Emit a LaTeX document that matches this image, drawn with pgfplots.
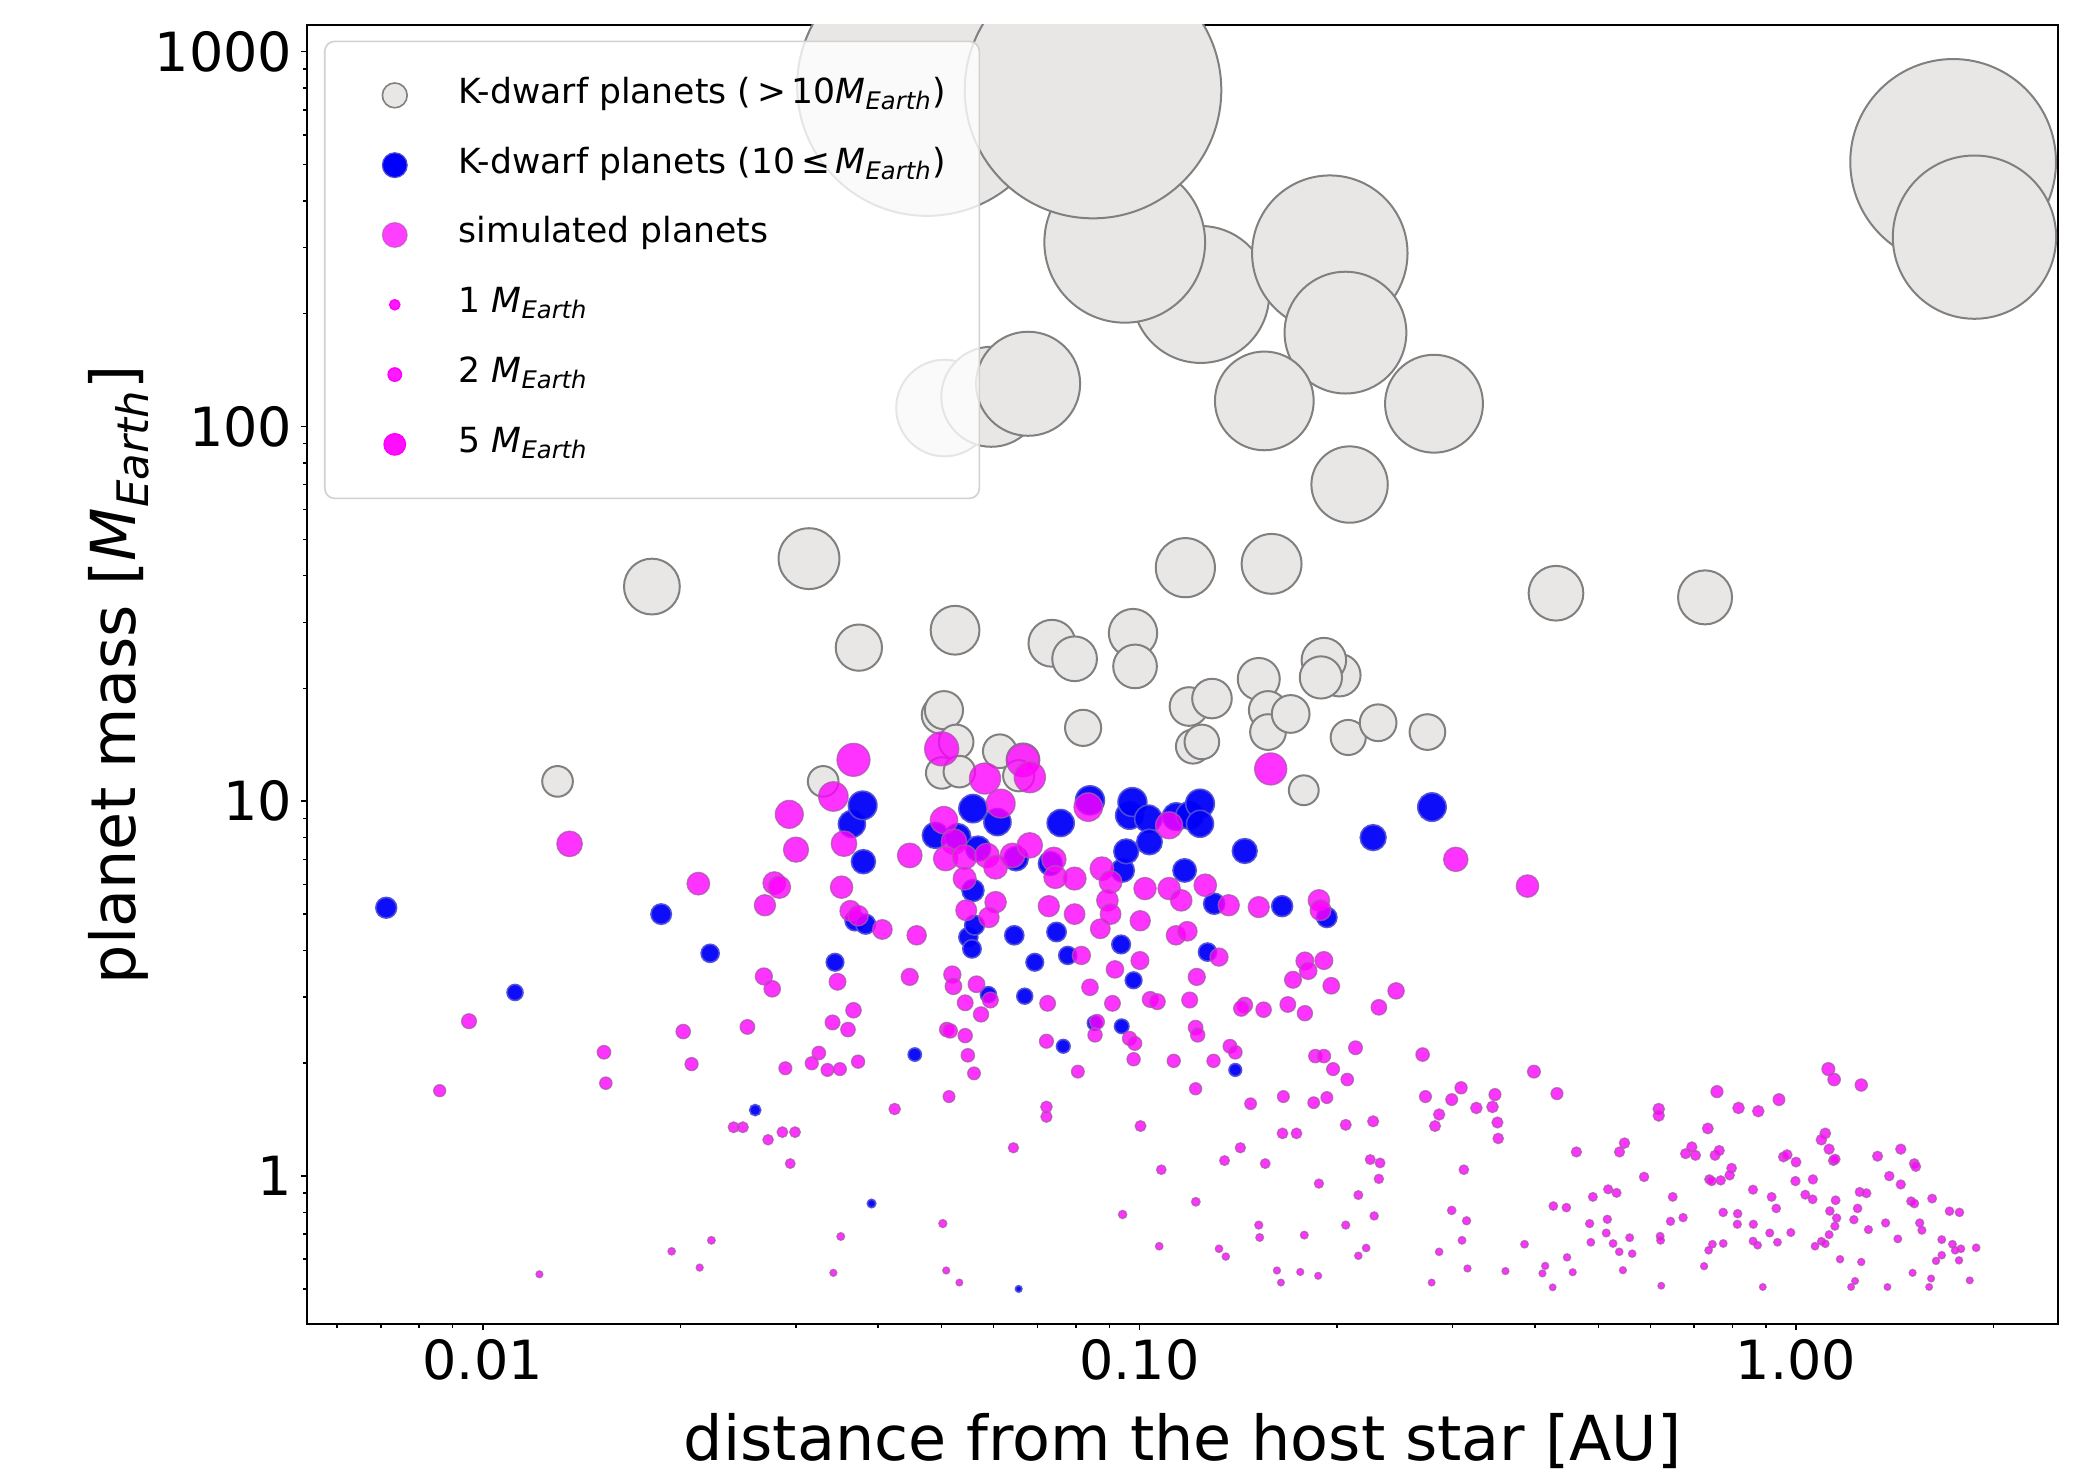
\documentclass[border=0pt]{standalone}
\usepackage{pgfplots}
\pgfplotsset{compat=1.18}
\usepackage{pgfplotstable}
\usepackage{fontspec}
\setmainfont{DejaVu Sans}
\definecolor{kgray}{RGB}{233,230,230}
\definecolor{kedge}{RGB}{128,128,128}
\definecolor{kblue}{RGB}{0,0,250}
\definecolor{kbedge}{RGB}{80,80,215}
\definecolor{smag}{RGB}{255,0,255}
\definecolor{smedge}{RGB}{175,85,175}
\newcommand{\ME}{\textit{M}\textsubscript{\textit{Earth}}}

% K-dwarf planets (> 10 M_Earth): distance [AU], mass [M_Earth]
\pgfplotstableread{
x y
0.0475 810
0.124 225
0.095 310
0.085 790
0.195 290
0.206 178
0.155 117
0.281 115
0.209 70
0.0505 112
0.0595 120
0.0677 130
1.735 508
1.87 320
0.0181 37.4
0.0314 44.4
0.0374 25.7
0.0130 11.3
0.0330 11.3
0.1175 42
0.159 43
0.0524 28.6
0.0736 26.4
0.0797 24
0.0978 28.1
0.0985 22.9
0.0498 17.0
0.0504 17.5
0.0526 14.4
0.050 11.9
0.0532 12.0
0.0613 13.6
0.0665 12.9
0.0655 11.7
0.0821 15.7
0.119 17.9
0.129 18.8
0.1207 14.0
0.1245 14.4
0.152 21.2
0.157 17.5
0.157 15.3
0.170 17.1
0.2016 21.7
0.191 23.8
0.189 21.4
0.178 10.7
0.208 14.8
0.231 16.2
0.2746 15.3
0.431 35.9
0.727 35.0
}\kbig

% K-dwarf planets (<= 10 M_Earth)
\pgfplotstableread{
x y
0.00713 5.2
0.0112 3.09
0.0187 5.0
0.0222 3.93
0.026 1.5
0.0344 3.72
0.0365 8.7
0.0379 9.75
0.038 6.9
0.0369 4.8
0.0383 4.7
0.0391 0.845
0.0455 2.11
0.0489 8.11
0.0529 8.05
0.0549 4.34
0.0556 4.04
0.0561 4.67
0.0558 9.56
0.0558 5.78
0.0568 7.48
0.0589 3.05
0.0608 8.8
0.0645 4.39
0.0649 7.03
0.0655 0.50
0.0669 3.02
0.0693 3.72
0.0732 6.82
0.0748 4.48
0.0759 8.75
0.0766 2.22
0.0778 3.88
0.0841 10.06
0.0855 2.56
0.0938 4.15
0.094 2.51
0.0943 6.54
0.0955 7.35
0.0966 9.17
0.0976 9.95
0.098 3.33
0.1032 8.98
0.1036 7.79
0.1138 9.1
0.1172 6.54
0.1193 9.17
0.1237 9.86
0.1237 8.71
0.127 3.96
0.13 5.33
0.140 1.92
0.1447 7.37
0.165 5.25
0.193 4.9
0.227 8.0
0.279 9.65
}\ksmall

% simulated planets
\pgfplotstableread{
x y
0.0367 12.9
0.0342 10.3
0.0293 9.23
0.030 7.43
0.0355 7.71
0.0447 7.17
0.01356 7.7
0.0213 6.03
0.0278 6.05
0.0283 5.9
0.0269 5.28
0.0352 5.9
0.0363 5.1
0.0373 4.95
0.0406 4.55
0.00953 2.59
0.0086 1.69
0.0153 2.14
0.0154 1.77
0.0202 2.43
0.0208 1.99
0.0253 2.5
0.0268 3.41
0.0276 3.16
0.0347 3.3
0.0367 2.77
0.0341 2.57
0.036 2.46
0.0325 2.13
0.0317 2.0
0.0335 1.92
0.035 1.93
0.0373 2.02
0.0289 1.94
0.0424 1.51
0.0241 1.35
0.0249 1.35
0.0272 1.25
0.0286 1.31
0.0299 1.31
0.0294 1.08
0.0122 0.547
0.0194 0.63
0.0214 0.57
0.0223 0.674
0.0351 0.69
0.0342 0.552
0.0447 3.4
0.0458 4.39
0.0519 3.45
0.0521 3.21
0.0565 3.25
0.0543 2.9
0.0593 2.95
0.0574 2.7
0.0509 2.46
0.0515 2.44
0.0543 2.37
0.0548 2.1
0.056 1.88
0.0513 1.63
0.0502 0.747
0.0508 0.56
0.0532 0.52
0.0725 2.89
0.0722 2.29
0.0722 1.53
0.0722 1.44
0.0643 1.19
0.0806 1.9
0.0816 3.88
0.0841 3.19
0.0862 2.58
0.0856 2.38
0.0872 4.57
0.0918 3.56
0.1002 3.76
0.091 2.89
0.0966 2.33
0.0984 2.26
0.098 2.05
0.1004 1.36
0.0943 0.79
0.108 1.04
0.1072 0.65
0.1039 2.96
0.1065 2.92
0.1128 2.03
0.1137 4.39
0.1183 4.5
0.1223 3.4
0.1193 2.95
0.1218 2.49
0.1227 2.38
0.1322 3.84
0.1297 2.03
0.1218 1.71
0.1219 0.854
0.1374 2.22
0.140 2.14
0.1348 1.10
0.1322 0.64
0.1354 0.61
0.1425 1.19
0.1447 2.86
0.143 2.8
0.1546 2.78
0.1477 1.56
0.1555 1.08
0.152 0.74
0.1525 0.686
0.162 0.56
0.1643 0.52
0.1758 0.555
0.1872 0.542
0.1783 0.696
0.1683 2.87
0.1787 2.72
0.1714 3.34
0.1787 3.75
0.1808 3.53
0.191 3.76
0.196 3.22
0.1657 1.63
0.1843 1.57
0.193 1.62
0.1652 1.30
0.1735 1.30
0.1877 0.955
0.1854 2.09
0.191 2.09
0.1973 1.93
0.2073 1.81
0.2134 2.2
0.2062 1.37
0.227 1.40
0.2247 1.107
0.2326 1.084
0.2316 0.983
0.2155 0.89
0.2062 0.74
0.2278 0.783
0.2215 0.643
0.2155 0.613
0.2316 2.82
0.246 3.12
0.27 2.11
0.2727 1.63
0.2861 1.46
0.282 1.36
0.2861 0.628
0.2787 0.52
0.050 13.8
0.0582 11.5
0.0615 9.86
0.0665 12.85
0.0681 11.6
0.1585 12.2
0.0836 9.65
0.111 8.63
0.0504 8.9
0.0522 7.8
0.0507 7.03
0.0542 7.1
0.0586 7.17
0.0604 6.67
0.0641 7.17
0.0681 7.63
0.0542 6.22
0.0604 5.38
0.0545 5.12
0.059 4.9
0.0741 7.0
0.0745 6.28
0.0797 6.22
0.0728 5.25
0.0797 5.0
0.0877 6.61
0.0904 6.09
0.0894 5.44
0.0904 5.0
0.1003 4.8
0.102 5.85
0.111 5.85
0.1158 5.44
0.126 5.97
0.1368 5.28
0.152 5.22
0.1877 5.44
0.1888 5.12
0.3033 7.0
0.39 5.94
0.399 1.90
0.309 1.72
0.299 1.60
0.348 1.65
0.326 1.52
0.345 1.53
0.351 1.39
0.352 1.26
0.4325 1.66
0.312 1.04
0.299 0.81
0.315 0.76
0.310 0.674
0.316 0.567
0.361 0.558
0.386 0.658
0.415 0.576
0.411 0.55
0.426 0.505
0.448 0.607
0.457 0.554
0.427 0.832
0.447 0.824
0.463 1.16
0.4905 0.88
0.5175 0.922
0.533 0.902
0.548 1.225
0.5385 1.16
0.485 0.747
0.487 0.666
0.516 0.767
0.514 0.705
0.5265 0.661
0.538 0.628
0.558 0.685
0.563 0.621
0.545 0.561
0.587 0.995
0.618 1.51
0.618 1.45
0.649 0.88
0.644 0.7575
0.673 0.775
0.621 0.691
0.622 0.674
0.6235 0.51
0.679 1.148
0.694 1.196
0.703 1.136
0.734 1.34
0.758 1.68
0.753 1.136
0.764 1.17
0.798 1.05
0.7925 1.005
0.738 0.98
0.744 0.97
0.768 0.974
0.8175 1.52
0.876 1.49
0.942 1.60
0.7746 0.80
0.815 0.794
0.814 0.744
0.775 0.661
0.746 0.658
0.736 0.634
0.7245 0.575
0.86 0.92
0.861 0.744
0.86 0.671
0.874 0.654
0.918 0.88
0.933 0.82
0.912 0.705
0.937 0.666
0.89 0.506
0.957 1.125
0.969 1.14
1.00 1.09
0.998 0.97
1.061 0.98
1.033 0.892
1.06 0.867
0.982 0.707
1.069 0.65
1.093 0.67
1.108 0.66
1.12 1.93
1.143 1.81
1.257 1.75
1.108 1.30
1.093 1.25
1.123 1.18
1.14 1.10
1.147 1.11
1.149 0.862
1.126 0.807
1.153 0.773
1.146 0.735
1.123 0.698
1.167 0.60
1.257 0.59
1.23 0.525
1.213 0.506
1.241 0.82
1.225 0.765
1.25 0.907
1.28 0.90
1.289 0.72
1.331 1.13
1.369 0.75
1.378 0.506
1.387 1.0
1.429 0.68
1.444 1.18
1.444 0.95
1.514 1.08
1.522 1.06
1.497 0.857
1.514 0.845
1.543 0.75
1.555 0.717
1.612 0.871
1.505 0.552
1.606 0.533
1.595 0.506
1.634 0.594
1.667 0.677
1.667 0.615
1.713 0.806
1.774 0.80
1.731 0.658
1.747 0.634
1.783 0.64
1.771 0.596
1.881 0.644
1.839 0.527
}\simp

\pgfplotsset{
  planet/.style n args={4}{forget plot, only marks, scatter, mark=*, line width=#3,
    scatter/use mapped color={draw=#1, fill=#2, fill opacity=#4, draw opacity=#4},
    visualization depends on={1.141*sqrt(\thisrow{y}) \as \rad},
    scatter/@pre marker code/.append style={/tikz/mark size=\rad}},
}

\begin{document}
\begin{tikzpicture}
\path[use as bounding box] (-76.75pt,-37pt) rectangle (441.75pt,331pt);
\begin{axis}[
  at={(0pt,0pt)}, anchor=south west,
  scale only axis, width=437.75pt, height=324.75pt,
  xmode=log, ymode=log,
  xmin=0.0054, xmax=2.506, ymin=0.403, ymax=1178,
  clip marker paths=true,
  axis line style={line width=0.5pt, black},
  tick pos=left, tick align=outside,
  major tick length=1.5pt, minor tick length=0.9pt,
  every tick/.style={black, line width=0.4pt},
  xtick={0.01,0.1,1}, xticklabels={0.01,0.10,1.00},
  ytick={1,10,100,1000}, yticklabels={1,10,100,1000},
  minor xtick={0.006,0.007,0.008,0.009,0.02,0.03,0.04,0.05,0.06,0.07,0.08,0.09,0.2,0.3,0.4,0.5,0.6,0.7,0.8,0.9,2},
  minor ytick={0.5,0.6,0.7,0.8,0.9,2,3,4,5,6,7,8,9,20,30,40,50,60,70,80,90,200,300,400,500,600,700,800,900},
  /pgf/number format/assume math mode=true,
  tick label style={font=\fontsize{13.5}{16}\selectfont},
  xticklabel style={anchor=base, yshift=-12.3pt},
  yticklabel style={anchor=east, inner sep=0pt, xshift=-2pt},
  label style={font=\fontsize{15.5}{18}\selectfont},
  xlabel={distance from the host star [AU]},
  ylabel={planet mass [\ME]},
  xlabel style={at={(axis description cs:0.5,0)}, anchor=base, yshift=-34pt},
  ylabel style={at={(axis description cs:-0.0982,0.5)}, anchor=base},
  legend cell align=left,
  legend style={at={(axis description cs:0.0097,0.988)}, anchor=north west,
    draw=black!18, rounded corners=2.5pt, fill=white, fill opacity=0.8,
    text opacity=1, draw opacity=1,
    inner xsep=6.3pt, inner ysep=7pt, row sep=4.45pt,
    font=\fontsize{8.65}{10}\selectfont,
    nodes={inner sep=2pt, text height=6.5pt, text depth=2.5pt}},
]
\addplot[planet={kedge}{kgray}{0.5pt}{1}] table {\kbig};
\addplot[planet={kbedge}{kblue}{0.4pt}{0.95}] table {\ksmall};
\addplot[planet={smedge}{smag}{0.35pt}{0.8}] table {\simp};

\addlegendimage{legend image code/.code={\path[draw=none,fill=none] (0pt,-3pt) rectangle (25.2pt,3pt);
  \draw[draw=kedge, fill=kgray, fill opacity=1, line width=0.4pt] (11.2pt,0pt) circle[radius=3.1pt];}}
\addlegendentry{K-dwarf planets (\,>\,10\ME)}
\addlegendimage{legend image code/.code={\path[draw=none,fill=none] (0pt,-3pt) rectangle (25.2pt,3pt);
  \draw[draw=kbedge, fill=kblue, fill opacity=1, line width=0.3pt] (11.2pt,0pt) circle[radius=3.1pt];}}
\addlegendentry{K-dwarf planets (10\,≤\,\ME)}
\addlegendimage{legend image code/.code={\path[draw=none,fill=none] (0pt,-3pt) rectangle (25.2pt,3pt);
  \draw[draw=smedge, fill=smag, fill opacity=0.75, draw opacity=0.6, line width=0.3pt] (11.2pt,0pt) circle[radius=3.1pt];}}
\addlegendentry{simulated planets}
\addlegendimage{legend image code/.code={\path[draw=none,fill=none] (0pt,-3pt) rectangle (25.2pt,3pt);
  \fill[smag, fill opacity=0.9] (11.2pt,0pt) circle[radius=1.25pt];}}
\addlegendentry{1 \ME}
\addlegendimage{legend image code/.code={\path[draw=none,fill=none] (0pt,-3pt) rectangle (25.2pt,3pt);
  \fill[smag, fill opacity=0.9] (11.2pt,0pt) circle[radius=1.65pt];}}
\addlegendentry{2 \ME}
\addlegendimage{legend image code/.code={\path[draw=none,fill=none] (0pt,-3pt) rectangle (25.2pt,3pt);
  \fill[smag, fill opacity=0.95] (11.2pt,0pt) circle[radius=2.65pt];}}
\addlegendentry{5 \ME}
\end{axis}
\end{tikzpicture}
\end{document}
